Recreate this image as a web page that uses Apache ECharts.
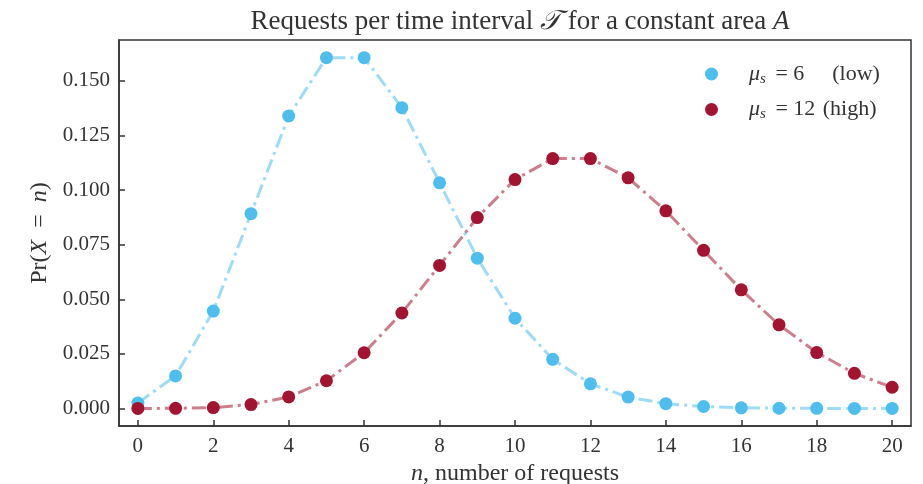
<!DOCTYPE html>
<html>
<head>
<meta charset="utf-8">
<script src="https://cdn.jsdelivr.net/npm/echarts@6/dist/echarts.min.js"></script>
<style>
  html, body { margin: 0; padding: 0; background: #fff; }
  #chart { width: 923px; height: 484px; }
</style>
</head>
<body>
<div id="chart"></div>
<script>
// number of requests n
const nValues = [0, 1, 2, 3, 4, 5, 6, 7, 8, 9, 10, 11, 12, 13, 14, 15, 16, 17, 18, 19, 20];
// Pr(X = n), mu_s = 6 (low)
const lowValues = [0.0025, 0.0149, 0.0446, 0.0892, 0.1339, 0.1606, 0.1606, 0.1377, 0.1033, 0.0688,
  0.0413, 0.0225, 0.0113, 0.0052, 0.0022, 0.0009, 0.0003, 0.0001, 0.00004, 0.00001, 0.000004];
// Pr(X = n), mu_s = 12 (high)
const highValues = [0.000006, 0.00007, 0.0004, 0.0018, 0.0053, 0.0127, 0.0255, 0.0437, 0.0655, 0.0874,
  0.1048, 0.1144, 0.1144, 0.1056, 0.0905, 0.0724, 0.0543, 0.0383, 0.0256, 0.0161, 0.0097];
const xTicks = [0, 2, 4, 6, 8, 10, 12, 14, 16, 18, 20];
const yTicks = [0, 0.025, 0.05, 0.075, 0.1, 0.125, 0.15];

const font = 'Liberation Serif';
const ink = '#333';
const blue = '#4DBEEE';
const red = '#A2142F';

const chart = echarts.init(document.getElementById('chart'));

const pairs = (vals) => nValues.map((n, i) => [n, vals[i]]);

const makeSeries = (name, vals, color) => ({
  name: name,
  type: 'line',
  data: pairs(vals),
  symbol: 'circle',
  symbolSize: 13,
  itemStyle: { color: color },
  lineStyle: { color: color, width: 3, opacity: 0.55, type: [14, 5, 3, 5] },
  emphasis: { disabled: true },
  z: 3
});

const italic = (size) => ({ fontFamily: font, fontSize: size, fontStyle: 'italic', color: ink });

const option = {
  animation: false,
  title: {
    text: 'Requests per time interval {i|𝒯} for a constant area {i|A}',
    left: 515,
    textAlign: 'center',
    top: 3,
    textStyle: {
      fontFamily: font, fontSize: 27, fontWeight: 'normal', color: ink,
      rich: { i: italic(27) }
    }
  },
  grid: {
    left: 119, right: 12, top: 40, bottom: 58,
    outerBoundsMode: 'none',
    show: true, borderColor: ink, borderWidth: 1.5, backgroundColor: 'transparent'
  },
  legend: {
    orient: 'vertical',
    left: 700,
    top: 58,
    itemGap: 12,
    itemWidth: 13,
    itemHeight: 13,
    icon: 'circle',
    data: ['low', 'high'],
    formatter: (name) => name === 'low'
      ? '{i|μ}{s|s} = 6{g|}(low)'
      : '{i|μ}{s|s} = 12 {h|}(high)',
    textStyle: {
      fontFamily: font, fontSize: 22, color: ink, padding: [0, 0, 0, 26],
      rich: {
        i: italic(22),
        s: { fontFamily: font, fontSize: 15, fontStyle: 'italic', color: ink, padding: [10, 4, 0, 0] },
        g: { width: 28 },
        h: { width: 2 }
      }
    }
  },
  xAxis: {
    type: 'value',
    min: -0.5,
    max: 20.5,
    name: '{i|n}, number of requests',
    nameLocation: 'middle',
    nameGap: 28,
    nameTextStyle: {
      fontFamily: font, fontSize: 24, color: ink,
      rich: { i: italic(24) }
    },
    axisLine: { show: true, onZero: false, lineStyle: { color: ink, width: 1.5 } },
    axisTick: { show: true, inside: true, length: 6, customValues: xTicks, lineStyle: { color: ink, width: 1.5 } },
    axisLabel: { customValues: xTicks, margin: 10, fontFamily: font, fontSize: 21, color: ink },
    splitLine: { show: false }
  },
  yAxis: {
    type: 'value',
    min: -0.00803,
    max: 0.1687,
    name: 'Pr({i|X}\u2002=\u2002{i|n})',
    nameLocation: 'middle',
    nameGap: 67,
    nameTextStyle: {
      fontFamily: font, fontSize: 24, color: ink,
      rich: { i: italic(24) }
    },
    axisLine: { show: true, onZero: false, lineStyle: { color: ink, width: 1.5 } },
    axisTick: { show: true, inside: true, length: 6, customValues: yTicks, lineStyle: { color: ink, width: 1.5 } },
    axisLabel: {
      customValues: yTicks, margin: 9, fontFamily: font, fontSize: 21, color: ink,
      formatter: (v) => v.toFixed(3)
    },
    splitLine: { show: false }
  },
  series: [
    makeSeries('low', lowValues, blue),
    makeSeries('high', highValues, red)
  ]
};

chart.setOption(option);
</script>
</body>
</html>
